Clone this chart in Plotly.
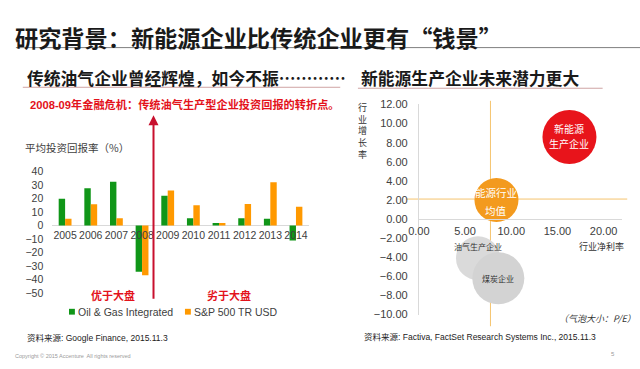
import plotly.graph_objects as go

W, H = 640, 369
def px(x): return x / W
def py(y): return 1 - y / H

CJK = "Noto Sans CJK SC"
LAT = "Liberation Sans, Arial, Noto Sans CJK SC"
RED = "#E3121B"
DARK = "#404040"

# ---------------- left chart data ----------------
years = ["2005", "2006", "2007", "2008", "2009", "2010", "2011", "2012", "2013", "2014"]
oil_gas = [19.8, 27.6, 32.4, -34.0, 22.0, 5.5, 2.0, 5.5, 5.0, -11.0]
sp500 = [5.0, 15.7, 5.5, -36.7, 26.0, 15.0, 2.0, 16.0, 32.0, 14.0]
left_yticks = [-50, -40, -30, -20, -10, 0, 10, 20, 30, 40]
series_names = ["Oil & Gas Integrated", "S&P 500 TR USD"]
series_colors = ["#109618", "#FF9900"]

# ---------------- right chart data ----------------
bubble_names = ["油气生产企业", "煤炭企业", "能源行业均值", "新能源生产企业"]
net_margin = [6.4, 8.6, 8.4, 16.3]      # 行业净利率 (%)
growth = [-4.1, -6.2, 2.0, 8.6]         # 行业增长率 (%)
pe = [22, 26, 22, 27]                   # 气泡大小 P/E
bubble_colors = ["#DADADA", "#D3D3D3", "#F39A1E", "#E8141B"]
mean_margin = 7.75
mean_growth = 2.1
right_xticks = [0, 5, 10, 15, 20]
right_yticks = [-10, -8, -6, -4, -2, 0, 2, 4, 6, 8, 10, 12]

fig = go.Figure()

for vals, name, col in zip([oil_gas, sp500], series_names, series_colors):
    fig.add_trace(go.Bar(x=years, y=vals, name=name,
                         marker=dict(color=col, line=dict(width=0)),
                         showlegend=False, xaxis="x", yaxis="y"))

fig.add_trace(go.Scatter(x=net_margin, y=growth, mode="markers",
                         marker=dict(size=pe, sizemode="diameter", sizeref=0.5,
                                     color=bubble_colors, opacity=1,
                                     line=dict(width=0)),
                         hovertext=bubble_names, showlegend=False,
                         xaxis="x2", yaxis="y2"))

annotations = []
def blabel(i, text, shift, color, size):
    annotations.append(dict(x=net_margin[i], y=growth[i], xref="x2", yref="y2",
                            text=text, showarrow=False, yshift=shift,
                            xanchor="center", yanchor="middle",
                            font=dict(family=CJK, size=size, color=color)))
blabel(3, "新能源", 8, "white", 10)
blabel(3, "生产企业", -7, "white", 10)
blabel(2, "能源行业", 8, "white", 10.5)
blabel(2, "均值", -10, "white", 10.5)
blabel(0, "油气生产企业", 12, "#333333", 8)
blabel(1, "煤炭企业", 0, "#333333", 8)

def txt(x, y, text, size, color, family=CJK, xanchor="left", **kw):
    annotations.append(dict(x=px(x), y=py(y), xref="paper", yref="paper",
                            text=text, showarrow=False, xanchor=xanchor,
                            yanchor="middle", align="left" if xanchor == "left" else "center",
                            font=dict(family=family, size=size, color=color), **kw))

txt(2, 32, "<b>研究背景：新能源企业比传统企业更有“钱景”</b>", 23.2, "#1a1a1a")
txt(14, 74, "<b>传统油气企业曾经辉煌，如今不振…………</b>", 16.8, "#1a1a1a")
txt(354, 74, "<b>新能源生产企业未来潜力更大</b>", 16.8, "#1a1a1a")
txt(17, 102, "<b>2008-09年金融危机：传统油气生产型企业投资回报的转折点。</b>", 11.2, RED, family=LAT)
txt(12, 146, "平均投资回报率（%）", 10.5, DARK)
txt(104, 299, "<b>优于大盘</b>", 11, RED, xanchor="center")
txt(222, 299, "<b>劣于大盘</b>", 11, RED, xanchor="center")
txt(14, 343, "资料来源: Google Finance, 2015.11.3", 8.5, "#222222", family=LAT)
txt(357, 342, "资料来源: Factiva, FactSet Research Systems Inc., 2015.11.3", 8.5, "#222222", family=LAT)
txt(2, 362, "Copyright © 2015 Accenture  All rights reserved", 5.5, "#9a9a9a", family=LAT)
txt(613, 360, "5", 6, "#9a9a9a", family=LAT, xanchor="center")
txt(597, 323, "<i>（气泡大小：P/E）</i>", 9, "#333333", xanchor="center")
txt(601, 249, "行业净利率", 9, "#333333", xanchor="center")
annotations.append(dict(x=px(358), y=py(96), xref="paper", yref="paper",
                        text="行<br>业<br>增<br>长<br>率", showarrow=False,
                        xanchor="center", yanchor="top",
                        font=dict(family=CJK, size=9, color="#333333")))
leg_x = [59, 177]
for lx, name, col in zip(leg_x, series_names, series_colors):
    txt(lx + 7, 316, name, 10.5, DARK, family=LAT)
annotations.append(dict(x=px(145), y=py(113), xref="paper", yref="paper",
                        text="", showarrow=True, ax=0, ay=185,
                        arrowhead=2, arrowsize=1, arrowwidth=2,
                        arrowcolor="#C8102E"))

shapes = [
    dict(type="line", xref="paper", yref="paper", x0=px(5), x1=px(640),
         y0=py(43), y1=py(43), line=dict(color="#7f7f7f", width=1)),
    dict(type="line", xref="paper", yref="paper", x0=px(12), x1=px(335),
         y0=py(84), y1=py(84), line=dict(color="#cfa3a3", width=1)),
    dict(type="line", xref="paper", yref="paper", x0=px(353), x1=px(602),
         y0=py(85), y1=py(85), line=dict(color="#cfa3a3", width=1)),
    dict(type="line", xref="x2", yref="paper", x0=mean_margin, x1=mean_margin,
         y0=py(98), y1=py(331), line=dict(color="#F5C46E", width=1), layer="below"),
    dict(type="line", xref="paper", yref="y2", x0=px(403), x1=px(627),
         y0=mean_growth, y1=mean_growth, line=dict(color="#F5C46E", width=1), layer="below"),
]
for lx, col in zip(leg_x, series_colors):
    shapes.append(dict(type="rect", xref="paper", yref="paper",
                       x0=px(lx), x1=px(lx + 6), y0=py(319), y1=py(313),
                       fillcolor=col, line=dict(width=0)))

fig.update_layout(
    width=W, height=H, margin=dict(l=0, r=0, t=0, b=0),
    paper_bgcolor="white", plot_bgcolor="rgba(0,0,0,0)",
    barmode="group", bargap=0.5, bargroupgap=0,
    showlegend=False,
    xaxis=dict(domain=[px(42), px(303)], type="category", anchor="free",
               position=py(227), showline=False, ticks="", showgrid=False,
               zeroline=False, tickfont=dict(family=LAT, size=10.5, color=DARK),
               ticklabelstandoff=2),
    yaxis=dict(domain=[py(297), py(171)], range=[-50, 40], tickvals=left_yticks,
               showgrid=False, zeroline=True, zerolinecolor="#d9d9d9", zerolinewidth=1,
               showline=False, ticks="", tickfont=dict(family=LAT, size=10.5, color=DARK),
               ticklabelstandoff=8),
    xaxis2=dict(domain=[px(415), px(621.8)], range=[0, 22], tickvals=right_xticks,
                tickformat=".2f", ticksuffix="%", anchor="free", position=py(220),
                showline=True, linecolor="#d9d9d9", ticks="", showgrid=False,
                zeroline=False, tickfont=dict(family=LAT, size=11, color=DARK),
                ticklabelstandoff=2),
    yaxis2=dict(domain=[py(319), py(101.8)], range=[-10, 12], tickvals=right_yticks,
                tickformat=".2f", ticksuffix="%", anchor="x2",
                showline=True, linecolor="#d9d9d9", ticks="", showgrid=False,
                zeroline=False, tickfont=dict(family=LAT, size=11, color=DARK),
                ticklabelstandoff=8),
    annotations=annotations, shapes=shapes,
)

fig.write_html("out.html", config={"displayModeBar": False},
               post_script=("document.documentElement.style.margin='0';"
                            "document.body.style.margin='0';"
                            "document.body.style.padding='0';"
                            "document.documentElement.style.overflow='hidden';"
                            "document.body.style.overflow='hidden';"))
